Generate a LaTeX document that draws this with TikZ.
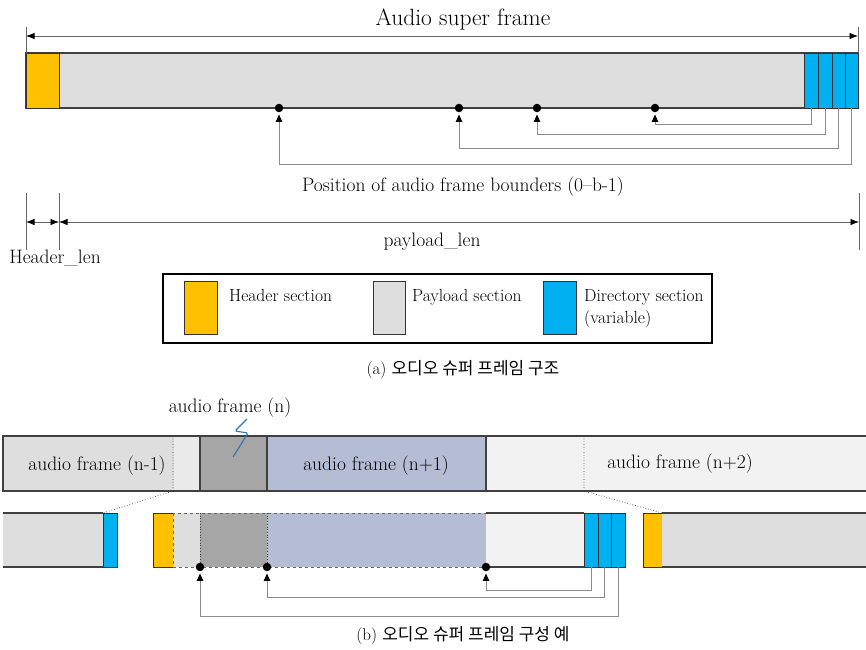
\documentclass[tikz,border=0pt]{standalone}
\usepackage{fontspec}
\newfontfamily\kr{Noto Sans CJK KR}
\usetikzlibrary{arrows.meta}
\definecolor{hdr}{HTML}{FFC000}
\definecolor{pay}{HTML}{DEDEDE}
\definecolor{dir}{HTML}{00B0F0}
\definecolor{frn}{HTML}{A6A6A6}
\definecolor{frnb}{HTML}{B4BDD3}
\definecolor{lite}{HTML}{F2F2F2}
\definecolor{edge}{HTML}{404040}
\definecolor{conncol}{HTML}{8C8C8C}
\definecolor{squig}{HTML}{2E75B6}
\newcommand\blk[6]{\node[box,#6,minimum width={#4-#2},minimum height={#5-#3}] (#1) at ({(#2+#4)/2},{(#3+#5)/2}) {};}
\tikzset{
  box/.style={rectangle,inner sep=0pt,outer sep=0pt},
  edged/.style={draw=edge,line width=1.1pt},
  cell/.style={fill=dir,draw=black!80,line width=1pt},
  hbox/.style={fill=hdr,draw=black!80,line width=1pt},
  bdot/.style={circle,fill=black,inner sep=0pt,minimum size=8.5pt},
  conn/.style={draw=conncol,line width=0.8pt,-{Triangle[color=black,length=7.5pt,width=6.5pt]}},
  dim/.style={draw=edge!80,line width=0.8pt,{Latex[color=black,length=8.5pt,width=6.5pt]}-{Latex[color=black,length=8.5pt,width=6.5pt]}},
  tickline/.style={draw=edge!80,line width=0.8pt},
  dotline/.style={draw=edge,line width=0.7pt,dotted},
  txt/.style={inner sep=0pt,text=black,font=\fontsize{19.5}{22}\selectfont},
  ltxt/.style={inner sep=0pt,text=black,font=\fontsize{17.5}{22}\selectfont},
  captxt/.style={inner sep=0pt,text=black,font=\fontsize{17}{20}\selectfont},
}
\begin{document}
\begin{tikzpicture}[x=1pt,y=-1pt]
\useasboundingbox (0,0) rectangle (866,649);
\clip (0,0) rectangle (866,649);
% ---------- (a) top bar ----------
\blk{payload}{26}{53}{858}{108}{fill=pay,edged}
\blk{hdr}{26}{53}{59}{108}{hbox}
\blk{d1}{804}{53}{818}{108}{cell}
\blk{d2}{818}{53}{832}{108}{cell}
\blk{d3}{832}{53}{845}{108}{cell}
\blk{d4}{845}{53}{858}{108}{cell}
% super frame dimension
\coordinate (sfL) at (26,36);
\coordinate (sfR) at (858,36);
\coordinate (sfLt) at (26,27);
\coordinate (sfRt) at (858,27);
\draw[tickline] (sfLt) -- (hdr.north west);
\draw[tickline] (sfRt) -- (d4.north east);
\draw[dim] (sfL) -- (sfR);
\node[txt,font=\fontsize{23.5}{26}\selectfont] (title) at (463,19) {Audio super frame};
% boundary dots
\node[bdot] (b1) at (279,108) {};
\node[bdot] (b2) at (459,108) {};
\node[bdot] (b3) at (537,108) {};
\node[bdot] (b4) at (655,108) {};
\draw[conn] (d1.south) -- ++(0,16) -| ([yshift=-2pt]b4.south);
\draw[conn] (d2.south) -- ++(0,26) -| ([yshift=-2pt]b3.south);
\draw[conn] (d3.south) -- ++(0,40) -| ([yshift=-2pt]b2.south);
\draw[conn] (d4.south) -- ++(0,56) -| ([yshift=-2pt]b1.south);
\node[txt] (pos) at (463,187) {Position of audio frame bounders (0--b-1)};
% length dimensions
\coordinate (t1a) at (26,193); \coordinate (t1b) at (26,250);
\coordinate (t2a) at (59,193); \coordinate (t2b) at (59,250);
\coordinate (t3a) at (859,193); \coordinate (t3b) at (859,250);
\draw[tickline] (t1a) -- (t1b);
\draw[tickline] (t2a) -- (t2b);
\draw[tickline] (t3a) -- (t3b);
\coordinate (l1) at (26,222); \coordinate (l2) at (59,222); \coordinate (l3) at (859,222);
\draw[dim] (l1) -- (l2);
\draw[dim] (l2) -- (l3);
\node[txt] (hlen) at (55,258) {Header\_len};
\node[txt] (plen) at (432,242) {payload\_len};
% legend
\blk{legend}{163}{274}{712}{343}{draw=black,line width=1.3pt}
\blk{lg1}{184}{281}{217}{334}{hbox}
\blk{lg2}{373}{281}{405}{334}{fill=pay,draw=black!80,line width=1pt}
\blk{lg3}{543}{281}{576}{334}{cell}
\node[ltxt,anchor=base west] (lt1) at (229,301) {Header section};
\node[ltxt,anchor=base west] (lt2) at (412,301) {Payload section};
\node[ltxt,anchor=base west] (lt3) at (584,301) {Directory section};
\node[ltxt,anchor=base west] (lt4) at (584,323) {(variable)};
\node[captxt] (capa) at (463,370) {(a) {\kr 오디오 슈퍼 프레임 구조}};
% ---------- (b) ----------
\blk{fa}{3}{436}{200}{491}{fill=pay,edged}
\fill[lite!60!pay] (173.5,436.6) rectangle (199.4,490.4);
\blk{fb}{200}{436}{267}{491}{fill=frn,edged}
\blk{fc}{267}{436}{486}{491}{fill=frnb,edged}
\blk{fd}{486}{436}{900}{491}{fill=lite,edged}
\node[txt] (tfa) at (97,466) {audio frame (n-1)};
\node[txt] (tfc) at (376,466) {audio frame (n+1)};
\node[txt] (tfd) at (680,464) {audio frame (n+2)};
\node[txt] (tfb) at (230,408) {audio frame (n)};
\draw[squig,line width=1.1pt,rounded corners=1.5pt] (247,419) -- (235,431) -- (248,433) -- (233,457);
% bottom row
\blk{la}{3}{513}{103}{567}{fill=pay}
\draw[edged] (la.north west) -- (la.north east) (la.south west) -- (la.south east);
\blk{lb}{103}{513}{117}{567}{cell}
\blk{h2}{153}{513}{173}{567}{hbox}
\blk{m0}{173}{513}{200}{567}{fill=pay}
\blk{m1}{200}{513}{267}{567}{fill=frn}
\blk{m2}{267}{513}{486}{567}{fill=frnb}
\draw[draw=edge!80,line width=0.9pt,dashed] (m0.north west) rectangle (m2.south east);
\draw[dotline] (m1.north west) -- (m1.south west);
\draw[dotline] (m2.north west) -- (m2.south west);
\blk{m3}{486}{513}{584}{567}{fill=lite}
\draw[edged] (m3.north west) -- (m3.north east) (m3.south west) -- (m3.south east);
\blk{c1}{584}{513}{598}{567}{cell}
\blk{c2}{598}{513}{611}{567}{cell}
\blk{c3}{611}{513}{625}{567}{cell}
\blk{h3}{643}{513}{662}{567}{hbox}
\blk{rr}{662}{513}{900}{567}{fill=pay}
\draw[edged] (rr.north west) -- (rr.north east) (rr.south west) -- (rr.south east);
% projection dotted lines
\coordinate (pl1) at (173,436); \coordinate (pl2) at (173,491);
\coordinate (pr1) at (584,436); \coordinate (pr2) at (584,491);
\draw[dotline] (pl1) -- (pl2) -- (lb.north west);
\draw[dotline] (pr1) -- (pr2) -- (h3.north east);
% dots and connectors
\node[bdot] (e1) at (200,567) {};
\node[bdot] (e2) at (267,567) {};
\node[bdot] (e3) at (486,567) {};
\draw[conn] (c1.south) -- ++(0,23) -| ([yshift=-2pt]e3.south);
\draw[conn] (c2.south) -- ++(0,30) -| ([yshift=-2pt]e2.south);
\draw[conn] (c3.south) -- ++(0,49) -| ([yshift=-2pt]e1.south);
\node[captxt] (capb) at (463,636) {(b) {\kr 오디오 슈퍼 프레임 구성 예}};
\end{tikzpicture}
\end{document}
